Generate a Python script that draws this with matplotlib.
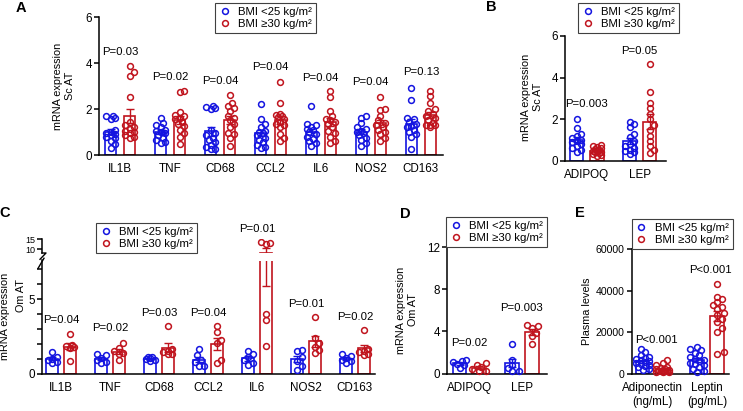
import numpy as np
import matplotlib
matplotlib.use('Agg')
import matplotlib.pyplot as plt
from matplotlib.lines import Line2D

plt.rcParams['font.family'] = ['Liberation Sans', 'DejaVu Sans']
plt.rcParams['font.size'] = 8.2

BLUE = '#1414e0'
RED = '#c0141e'
W, H = 743, 411
LABELS = ['BMI <25 kg/m²', 'BMI ≥30 kg/m²']

# ---- A: Sc AT, inflammatory genes ----
a_genes = ['IL1B', 'TNF', 'CD68', 'CCL2', 'IL6', 'NOS2', 'CD163']
a_lean = [
    [1.70, 1.68, 1.62, 1.58, 1.10, 1.02, 0.95, 0.90, 0.85, 0.78, 0.72, 0.60, 0.48, 0.32],
    [1.60, 1.40, 1.30, 1.20, 1.10, 1.05, 1.00, 0.95, 0.85, 0.75, 0.65, 0.55, 0.50],
    [2.15, 2.10, 2.05, 2.02, 1.10, 0.95, 0.85, 0.75, 0.65, 0.55, 0.45, 0.35, 0.28, 0.25],
    [2.23, 1.55, 1.35, 1.20, 1.05, 1.00, 0.95, 0.85, 0.75, 0.65, 0.55, 0.45, 0.35, 0.30],
    [2.13, 1.35, 1.30, 1.20, 1.15, 1.10, 1.00, 0.90, 0.80, 0.70, 0.60, 0.50, 0.40],
    [1.70, 1.62, 1.38, 1.20, 1.15, 1.05, 1.00, 0.95, 0.85, 0.75, 0.65, 0.50, 0.38],
    [2.90, 2.38, 1.62, 1.55, 1.45, 1.35, 1.25, 1.20, 1.10, 1.00, 0.90, 0.80, 0.25],
]
a_obese = [
    [3.85, 3.60, 3.45, 2.52, 1.45, 1.30, 1.20, 1.15, 1.05, 1.00, 0.95, 0.85, 0.80, 0.75],
    [2.80, 2.72, 1.85, 1.75, 1.70, 1.60, 1.55, 1.45, 1.35, 1.25, 1.10, 0.95, 0.80, 0.48],
    [2.62, 2.25, 2.15, 2.05, 1.90, 1.70, 1.60, 1.50, 1.35, 1.20, 0.95, 0.90, 0.75, 0.40],
    [3.16, 2.25, 1.80, 1.75, 1.70, 1.65, 1.55, 1.45, 1.35, 1.20, 1.30, 0.75, 0.90, 0.60],
    [2.80, 2.50, 1.90, 1.70, 1.55, 1.50, 1.45, 1.35, 1.20, 1.05, 0.95, 0.80, 0.60, 0.50],
    [2.50, 2.00, 1.95, 1.70, 1.50, 1.40, 1.30, 1.20, 1.10, 1.00, 0.90, 0.75, 0.60],
    [2.80, 2.55, 2.25, 2.00, 1.90, 1.80, 1.70, 1.60, 1.50, 1.40, 1.30, 1.20, 1.30, 1.30],
]
a_p = ['P=0.03', 'P=0.02', 'P=0.04', 'P=0.04', 'P=0.04', 'P=0.04', 'P=0.13']
a_p_y = [4.48, 3.39, 3.2, 3.83, 3.35, 3.17, 3.6]

# ---- B: Sc AT, adipokines ----
b_genes = ['ADIPOQ', 'LEP']
b_lean = [
    [2.03, 1.55, 1.30, 1.20, 1.10, 1.00, 0.95, 0.90, 0.80, 0.70, 0.60, 0.50, 0.40],
    [1.87, 1.75, 1.60, 1.30, 1.15, 0.95, 0.80, 0.70, 0.60, 0.50, 0.45, 0.40, 0.32],
]
b_obese = [
    [0.75, 0.70, 0.65, 0.60, 0.55, 0.50, 0.48, 0.45, 0.42, 0.40, 0.35, 0.30, 0.28, 0.25],
    [4.65, 3.30, 2.80, 2.55, 2.25, 2.00, 1.70, 1.50, 1.20, 0.95, 0.70, 0.50, 0.35],
]
b_p = ['P=0.003', 'P=0.05']
b_p_y = [2.73, 5.3]

# ---- C: Om AT, inflammatory genes ----
c_genes = ['IL1B', 'TNF', 'CD68', 'CCL2', 'IL6', 'NOS2', 'CD163']
c_lean = [
    [1.45, 1.15, 1.00, 0.90, 0.80, 0.70],
    [1.35, 1.25, 1.05, 0.95, 0.80, 0.70],
    [1.15, 1.10, 1.05, 1.00, 0.95, 0.85],
    [1.65, 1.25, 0.95, 0.80, 0.55, 0.50],
    [1.50, 1.30, 1.10, 0.90, 0.75, 0.60],
    [1.60, 1.55, 1.15, 0.85, 0.50, 0.25],
    [1.30, 1.20, 1.05, 0.95, 0.85, 0.75],
]
c_obese = [
    [2.65, 1.90, 1.85, 1.80, 1.75, 0.85],
    [2.05, 1.75, 1.50, 1.40, 1.30, 0.90],
    [3.20, 1.65, 1.55, 1.45, 1.35, 1.30],
    [3.20, 2.80, 2.25, 2.05, 0.95, 0.70],
    [13.2, 12.6, 13.4, 4.00, 3.60, 1.87],
    [3.80, 2.37, 2.05, 1.80, 1.60, 1.37],
    [2.95, 1.65, 1.55, 1.45, 1.35, 1.25],
]
c_p = ['P=0.04', 'P=0.02', 'P=0.03', 'P=0.04', 'P=0.01', 'P=0.01', 'P=0.02']
c_p_y = [3.6, 3.05, 4.1, 4.1, None, 4.7, 3.8]

# ---- D: Om AT, adipokines ----
d_genes = ['ADIPOQ', 'LEP']
d_lean = [[1.30, 1.20, 1.10, 0.95, 0.80, 0.50], [2.80, 1.30, 0.80, 0.50, 0.30, 0.25]]
d_obese = [[1.00, 0.80, 0.60, 0.45, 0.30, 0.25], [4.60, 4.50, 4.30, 3.90, 3.60, 2.80]]
d_p = ['P=0.02', 'P=0.003']
d_p_y = [2.94, 6.2]

# ---- E: plasma ----
e_names = ['Adiponectin\n(ng/mL)', 'Leptin\n(pg/mL)']
e_lean = [
    [11800, 10600, 9000, 8000, 7500, 7000, 6500, 6000, 5500, 5000, 4500, 4000, 3500, 3000, 2500, 1800],
    [12800, 12000, 11200, 10200, 9000, 8000, 7000, 6500, 6000, 5000, 4500, 4000, 3000, 2500, 1500, 800],
]
e_obese = [
    [6600, 5200, 4000, 3300, 2800, 2500, 2200, 2000, 1800, 1500, 1500, 1300, 1200, 1000, 1000, 900],
    [43100, 37200, 36000, 34700, 33000, 32300, 31000, 29500, 28500, 26500, 25000, 22000, 20300, 10600, 9500],
]
e_p = ['P<0.001', 'P<0.001']
e_p_y = [16260, 50000]

fig = plt.figure(figsize=(W / 100, H / 100), dpi=100)


def px_axes(x0, top, x1, bottom):
    return fig.add_axes([x0 / W, 1 - bottom / H, (x1 - x0) / W, (bottom - top) / H])


def style(ax):
    for s in ('top', 'right'):
        ax.spines[s].set_visible(False)
    for s in ('left', 'bottom'):
        ax.spines[s].set_linewidth(1.1)
    ax.tick_params(axis='y', direction='out', length=3.5, width=1.1, pad=1.5, labelsize=8.4)
    ax.tick_params(axis='y', which='minor', direction='out', length=3.5, width=1.1)
    ax.tick_params(axis='x', length=0, pad=6, labelsize=8.4)


def swarm(ax, xc, vals, bw):
    # spread points sideways so they don't sit on top of each other
    t = ax.transData
    ppx = t.transform((1, 0))[0] - t.transform((0, 0))[0]
    ypx = [t.transform((xc, v))[1] for v in vals]
    d = 5.0
    maxoff = bw * ppx * 0.5
    step = 2.2
    steps = [0]
    k = 1
    while k * step <= maxoff:
        steps += [k * step, -k * step]
        k += 1
    placed = []
    out = np.zeros(len(vals))
    for i in np.argsort(vals):
        best, bestd = 0, -1
        for sx in steps:
            md = min([np.hypot(sx - px, ypx[i] - py) for px, py in placed] + [99])
            if md >= d:
                best = sx
                break
            if md > bestd:
                best, bestd = sx, md
        placed.append((best, ypx[i]))
        out[i] = best / ppx
    return out


def draw_groups(ax, lean, obese, off, bw, clip=False):
    for i, (l, o) in enumerate(zip(lean, obese)):
        for vals, dx, col in ((l, -off, BLUE), (o, off, RED)):
            v = np.array(vals, dtype=float)
            m = v.mean()
            se = v.std(ddof=1) / np.sqrt(len(v))
            x = i + dx
            ax.bar(x, m, bw, color='white', edgecolor=col, linewidth=1.2, zorder=2)
            ax.errorbar(x, m, yerr=se, color=col, capsize=2.6, elinewidth=1.0,
                        capthick=1.0, zorder=3)
            ax.plot(x + swarm(ax, x, v, bw), v, 'o', mfc='none', mec=col, ms=4.2,
                    mew=1.1, zorder=4, clip_on=clip)


def add_legend(ax, x0, y0):
    h = [Line2D([], [], ls='none', marker='o', mfc='none', mec=c, ms=4.2, mew=1.1)
         for c in (BLUE, RED)]
    leg = ax.legend(h, LABELS, loc='upper left', bbox_to_anchor=(x0 / W, 1 - y0 / H),
                    bbox_transform=fig.transFigure, frameon=True, fancybox=False,
                    edgecolor='#404040', framealpha=1, borderpad=0.35, labelspacing=0.2,
                    handlelength=1.0, handletextpad=0.7, borderaxespad=0, fontsize=8.2)
    leg.get_frame().set_linewidth(0.8)
    leg.set_zorder(10)


def panel_letter(x, y, s):
    fig.text(x / W, 1 - y / H, s, fontsize=10.5, fontweight='heavy', ha='center', va='center')


# ---- A ----
axA = px_axes(99, 17, 443, 155)
axA.set_xlim(-0.42, 6.44)
axA.set_ylim(0, 6)
style(axA)
draw_groups(axA, a_lean, a_obese, 0.19, 0.22)
axA.set_xticks(range(len(a_genes)), a_genes)
axA.set_yticks([0, 2, 4, 6])
for i, (s, y) in enumerate(zip(a_p, a_p_y)):
    axA.text(i, y, s, ha='center', va='center')
axA.set_ylabel('mRNA expression\nSc AT', fontsize=7.8)
axA.yaxis.set_label_coords(-0.071, 0.5)
add_legend(axA, 215, 3)
panel_letter(20.5, 7.5, 'A')

# ---- B ----
axB = px_axes(565, 36, 666, 160.7)
axB.set_xlim(-0.415, 1.5)
axB.set_ylim(0, 6)
style(axB)
draw_groups(axB, b_lean, b_obese, 0.19, 0.25)
axB.set_xticks(range(len(b_genes)), b_genes)
axB.set_yticks([0, 2, 4, 6])
for i, (s, y) in enumerate(zip(b_p, b_p_y)):
    axB.text(i, y, s, ha='center', va='center')
axB.set_ylabel('mRNA expression\nSc AT', fontsize=7.8)
axB.yaxis.set_label_coords(-0.222, 0.51)
add_legend(axB, 578, 3)
panel_letter(491.7, 7.3, 'B')

# ---- C (broken y axis) ----
axC = px_axes(42, 260.5, 375, 373.7)
axCu = px_axes(42, 239, 375, 253)
axCu.patch.set_visible(False)
for ax in (axC, axCu):
    ax.set_xlim(-0.39, 6.41)
    style(ax)
axC.set_ylim(0, 7.6)
axCu.set_ylim(8, 15)
draw_groups(axC, c_lean, c_obese, 0.18, 0.245, clip=True)
draw_groups(axCu, c_lean, c_obese, 0.18, 0.245, clip=True)
axC.set_xticks(range(len(c_genes)), c_genes)
axC.set_yticks([0, 5])
axC.set_yticks([1, 2, 3, 4, 6, 7], minor=True)
axCu.spines['bottom'].set_visible(False)
axCu.set_xticks([])
axCu.set_yticks([10, 15])
axCu.tick_params(axis='y', labelsize=6.5, length=3.5, pad=1)
# break marks
axC.plot([-0.012, 0.006], [0.93, 1.02], transform=axC.transAxes, color='black',
         lw=1.0, clip_on=False)
axCu.plot([0.0, 0.012, -0.006], [0.0, 0.0, -0.45], transform=axCu.transAxes,
          color='black', lw=1.0, clip_on=False)
for i, (s, y) in enumerate(zip(c_p, c_p_y)):
    if y is None:
        axCu.text(i, 20, s, ha='center', va='center')
    else:
        axC.text(i, y, s, ha='center', va='center')
fig.text(5.5 / W, 1 - 316.5 / H, 'mRNA expression', rotation=90, fontsize=7.8,
         ha='center', va='center')
fig.text(20.5 / W, 1 - 295 / H, 'Om AT', rotation=90, fontsize=7.8,
         ha='center', va='center')
add_legend(axCu, 96, 223)
panel_letter(5, 213, 'C')

# ---- D ----
axD = px_axes(446.7, 247, 546.7, 373.7)
axD.set_xlim(-0.43, 1.47)
axD.set_ylim(0, 12)
style(axD)
draw_groups(axD, d_lean, d_obese, 0.185, 0.26)
axD.set_xticks(range(len(d_genes)), d_genes)
axD.set_yticks([0, 4, 8, 12])
for i, (s, y) in enumerate(zip(d_p, d_p_y)):
    axD.text(i, y, s, ha='center', va='center')
axD.set_ylabel('mRNA expression\nOm AT', fontsize=7.8)
axD.yaxis.set_label_coords(-0.292, 0.503)
add_legend(axD, 446, 217)
panel_letter(405, 214, 'D')

# ---- E ----
axE = px_axes(631.7, 249.3, 729.3, 373.7)
axE.set_xlim(-0.39, 1.41)
axE.set_ylim(0, 60000)
style(axE)
draw_groups(axE, e_lean, e_obese, 0.185, 0.245)
axE.set_xticks(range(len(e_names)), e_names)
axE.set_yticks([0, 20000, 40000, 60000])
axE.tick_params(axis='y', labelsize=7.6)
for i, (s, y) in enumerate(zip(e_p, e_p_y)):
    axE.text(i + 0.06, y, s, ha='center', va='center')
axE.set_ylabel('Plasma levels', fontsize=7.8)
axE.yaxis.set_label_coords(-0.41, 0.5)
add_legend(axE, 631.7, 219)
panel_letter(580, 213, 'E')

fig.savefig('out.png', dpi=100)
